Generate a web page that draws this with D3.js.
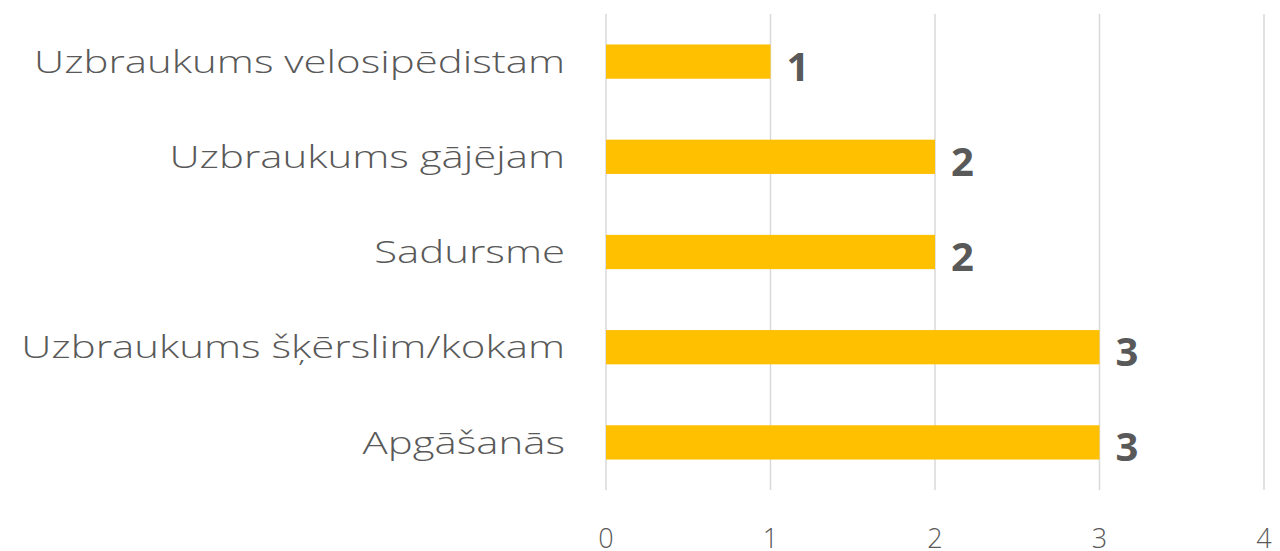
<!DOCTYPE html>
<html>
<head>
<meta charset="utf-8">
<script src="https://cdn.jsdelivr.net/npm/d3@7"></script>
<style>
  body { margin: 0; background: #fff; }
  text { font-family: "Open Sans", "Noto Sans", sans-serif; }
</style>
</head>
<body>
<script>
// categories top to bottom
var categories = ["Uzbraukums velosipēdistam", "Uzbraukums gājējam", "Sadursme", "Uzbraukums šķērslim/kokam", "Apgāšanās"];
var values = [1, 2, 2, 3, 3];
var ticks = [0, 1, 2, 3, 4];

var w = 1280, h = 551;
var margin = {top: 14, left: 606, right: 16, bottom: 61};

var x = d3.scaleLinear()
    .domain([0, 4])
    .range([margin.left, w - margin.right]);

var y = d3.scaleBand()
    .domain(categories)
    .range([margin.top, h - margin.bottom])
    .paddingInner(0.64)
    .paddingOuter(0.32);

var svg = d3.select("body").append("svg")
    .attr("width", w)
    .attr("height", h);

// gridlines
svg.selectAll(".grid")
    .data(ticks)
    .enter()
      .append("line")
      .attr("class", "grid")
      .attr("x1", function(d){ return x(d); })
      .attr("x2", function(d){ return x(d); })
      .attr("y1", margin.top)
      .attr("y2", h - margin.bottom)
      .attr("stroke", "#d9d9d9")
      .attr("stroke-width", 1.5);

// x tick labels
var tl = svg.selectAll(".tick-label")
    .data(ticks)
    .enter()
      .append("text")
      .attr("class", "tick-label")
      .attr("x", function(d){ return x(d); })
      .attr("y", 548)
      .attr("text-anchor", "middle")
      .attr("font-size", 27)
      .attr("font-weight", 300)
      .attr("fill", "#595959")
      .text(function(d){ return d; });

// bars
svg.selectAll(".bar")
    .data(values)
    .enter()
      .append("rect")
      .attr("class", "bar")
      .attr("x", x(0))
      .attr("y", function(d, i){ return y(categories[i]); })
      .attr("width", function(d){ return x(d) - x(0); })
      .attr("height", y.bandwidth())
      .attr("fill", "#ffc000");

// category labels (the original font is wider, so stretch a bit)
var cl = svg.selectAll(".cat-label")
    .data(categories)
    .enter()
      .append("text")
      .attr("class", "cat-label")
      .attr("x", 565)
      .attr("y", function(d){ return y(d) + y.bandwidth() / 2; })
      .attr("dy", "0.35em")
      .attr("text-anchor", "end")
      .attr("font-size", 32)
      .attr("font-weight", 300)
      .attr("fill", "#595959")
      .text(function(d){ return d; });

var stretch = 531 / cl.node().getComputedTextLength();
cl.each(function(){
  var len = this.getComputedTextLength();
  d3.select(this)
    .attr("textLength", len * stretch)
    .attr("lengthAdjust", "spacingAndGlyphs");
});

// value labels
svg.selectAll(".val-label")
    .data(values)
    .enter()
      .append("text")
      .attr("class", "val-label")
      .attr("x", function(d){ return x(d) + 16; })
      .attr("y", function(d, i){ return y(categories[i]) + y.bandwidth() / 2 + 19; })
      .attr("font-size", 40)
      .attr("font-weight", 700)
      .attr("fill", "#595959")
      .text(function(d){ return d; });
</script>
</body>
</html>
